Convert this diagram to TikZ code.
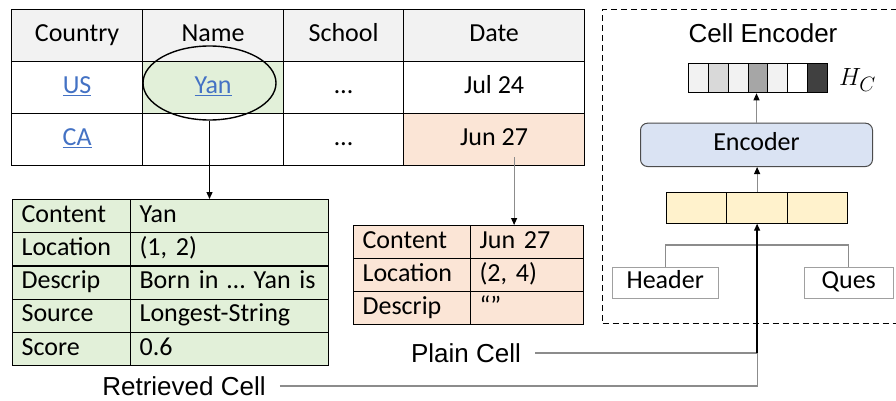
\documentclass[tikz,border=0pt]{standalone}
\usepackage{fontspec}
\setmainfont{Carlito}
\newfontfamily\arialf{Liberation Sans}
\usetikzlibrary{arrows.meta,shapes.geometric}
\frenchspacing

\definecolor{hdrgray}{HTML}{F2F2F2}
\definecolor{cellgreen}{HTML}{E2F0D9}
\definecolor{cellorange}{HTML}{FBE5D6}
\definecolor{linkblue}{HTML}{4472C4}
\definecolor{encblue}{HTML}{DAE3F3}
\definecolor{cellyellow}{HTML}{FFF2CC}
\definecolor{linegray}{HTML}{8C8C8C}
\definecolor{boxgray}{HTML}{A0A0A0}

\newcommand\bigtxt{\fontsize{26}{30}\selectfont}
\newcommand\lnk[1]{\textcolor{linkblue}{\underline{#1}}}

\tikzset{
  tcell/.style={draw, line width=1.2pt, inner sep=0pt, anchor=north west,
    font=\bigtxt, text height=18pt, text depth=6pt},
  maincell/.style={tcell, minimum height=52pt},
  keycell/.style={tcell, minimum height=33.2pt, text width=100pt, inner xsep=9pt, align=left},
  valcell/.style={tcell, minimum height=33.2pt, text width=180pt, inner xsep=9pt, align=left},
  pkeycell/.style={tcell, minimum height=33pt, text width=99pt, inner xsep=9pt, align=left},
  pvalcell/.style={tcell, minimum height=33pt, text width=95pt, inner xsep=9pt, align=left},
  hcell/.style={draw, line width=1pt, inner sep=0pt, anchor=north west,
    minimum width=19.94pt, minimum height=29pt},
  ycell/.style={draw, line width=1pt, inner sep=0pt, anchor=north west,
    fill=cellyellow, minimum width=60.4pt, minimum height=31pt},
  inbox/.style={draw=boxgray, line width=1pt, fill=white, inner sep=0pt, anchor=north west,
    minimum height=31.3pt, font=\bigtxt, text height=18pt, text depth=6pt},
  label/.style={font=\arialf\bigtxt, inner sep=0pt},
  gline/.style={draw=linegray, line width=1.2pt},
  garr/.style={draw=linegray, line width=1pt, -{Triangle[length=7pt,width=6pt,color=black]}},
  barr/.style={draw=black, line width=1.3pt, -{Triangle[length=7pt,width=6pt]}},
}

\begin{document}
\begin{tikzpicture}[x=1pt, y=-1pt]
\path[use as bounding box, clip] (0,0) rectangle (896,401);
\fill[white] (0,0) rectangle (896,401);

% ---- main table ----
\node[maincell, fill=hdrgray, minimum width=131pt] (hc) at (11,9) {Country};
\node[maincell, fill=hdrgray, minimum width=141pt] (hn) at (142,9) {Name};
\node[maincell, fill=hdrgray, minimum width=120pt] (hs) at (283,9) {School};
\node[maincell, fill=hdrgray, minimum width=181pt] (hd) at (403,9) {Date};

\node[maincell, minimum width=131pt] (ac) at (11,61) {\lnk{US}};
\node[maincell, fill=cellgreen, minimum width=141pt] (an) at (142,61) {\lnk{Yan}};
\node[maincell, minimum width=120pt] (as) at (283,61) {…};
\node[maincell, minimum width=181pt] (ad) at (403,61) {Jul 24};

\node[maincell, minimum width=131pt] (bc) at (11,113) {\lnk{CA}};
\node[maincell, minimum width=141pt] (bn) at (142,113) {};
\node[maincell, minimum width=120pt] (bs) at (283,113) {…};
\node[maincell, fill=cellorange, minimum width=181pt] (bd) at (403,113) {Jun 27};

\node[draw, ellipse, line width=1.4pt, inner sep=0pt,
  minimum width=133pt, minimum height=74pt] (ell) at (209.5,83) {};

% ---- retrieved cell table ----
\foreach \k/\v [count=\i from 0] in
  {Content/Yan, Location/{(1, 2)}, Descrip/{Born in … Yan is},
   Source/Longest-String, Score/0.6} {
  \node[keycell, fill=cellgreen] (rk\i) at (12,199+\i*33.2) {\k};
  \node[valcell, fill=cellgreen] (rv\i) at (130,199+\i*33.2) {\v};
}

% ---- plain cell table ----
\foreach \k/\v [count=\i from 0] in
  {Content/Jun 27, Location/{(2, 4)}, Descrip/{“”}} {
  \node[pkeycell, fill=cellorange] (pk\i) at (353,225+\i*33) {\k};
  \node[pvalcell, fill=cellorange] (pv\i) at (470,225+\i*33) {\v};
}

\draw[barr] (ell.south) -- (ell.south |- rk0.north);
\draw[garr] ([xshift=20pt, yshift=9pt]bd.south) -- ([xshift=20pt]bd.south |- pv0.north);

\node[label] (plain) at (466,353) {Plain Cell};
\node[label] (ret) at (184,386) {Retrieved Cell};

% ---- cell encoder ----
\node[draw, dashed, dash pattern=on 6pt off 4pt, line width=1pt, inner sep=0pt,
  anchor=north west, minimum width=310pt, minimum height=314.3pt] (frame) at (602,9) {};
\node[label] (title) at (763,33) {Cell Encoder};

\foreach \c [count=\i from 0] in {black!5, black!15, black!5, black!35, black!5, white, black!75}
  \node[hcell, fill=\c] (h\i) at (687.7+\i*19.94,63.3) {};
\node[anchor=west, inner sep=0pt, font=\fontsize{29}{33}\selectfont] (hclabel) at (839,80) {$H_C$};

\node[draw=black!70, line width=1pt, fill=encblue, rounded corners=7pt, inner sep=0pt,
  anchor=north west, minimum width=232pt, minimum height=43.3pt,
  font=\bigtxt, text height=18pt, text depth=6pt] (enc) at (640,122.7) {Encoder};

\foreach \i in {0,1,2}
  \node[ycell] (y\i) at (666+\i*60.4,191.7) {};

\node[inbox, minimum width=106pt] (hdr) at (611.7,266.7) {Header};
\node[inbox, minimum width=89.5pt] (ques) at (803.5,266.7) {Ques};

\coordinate (br) at (757,245);
\draw[gline] (hdr.north) |- (br) -| (ques.north);

\draw[garr] (y1.north) -- (y1.north |- enc.south);
\draw[garr] (enc.north) -- (enc.north |- h3.south);

\coordinate (jn) at (y1.south |- plain.east);
\draw[gline] ([xshift=14pt]plain.east) -- (jn);
\draw[gline] ([xshift=14pt]ret.east) -| (jn);
\draw[barr] (jn) -- (y1.south);
\end{tikzpicture}
\end{document}
